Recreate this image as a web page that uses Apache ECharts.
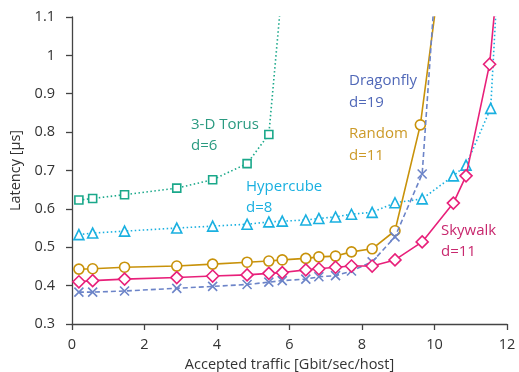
<!DOCTYPE html>
<html>
<head>
<meta charset="utf-8">
<script src="https://cdn.jsdelivr.net/npm/echarts@6/dist/echarts.min.js"></script>
<style>
html,body{margin:0;padding:0;background:#fff;}
#chart{width:519px;height:372px;}
</style>
</head>
<body>
<div id="chart"></div>
<script>
// ---- data ----
const torusX = [0.19, 0.57, 1.45, 2.89, 3.88, 4.83, 5.43, 5.80];
const torusY = [0.623, 0.627, 0.637, 0.654, 0.676, 0.718, 0.794, 1.18];

const hyperX = [0.19, 0.57, 1.45, 2.89, 3.88, 4.83, 5.43, 5.80, 6.45, 6.81, 7.27, 7.71, 8.28, 8.91, 9.66, 10.52, 10.87, 11.55, 11.80];
const hyperY = [0.533, 0.537, 0.542, 0.550, 0.555, 0.560, 0.566, 0.568, 0.571, 0.575, 0.579, 0.586, 0.591, 0.616, 0.626, 0.686, 0.714, 0.862, 1.30];

const randomX = [0.19, 0.57, 1.45, 2.89, 3.88, 4.83, 5.43, 5.80, 6.45, 6.81, 7.27, 7.71, 8.28, 8.91, 9.61, 10.40];
const randomY = [0.443, 0.444, 0.448, 0.451, 0.456, 0.461, 0.464, 0.467, 0.471, 0.475, 0.477, 0.488, 0.496, 0.543, 0.819, 1.39];

const dragonX = [0.19, 0.57, 1.45, 2.89, 3.88, 4.83, 5.43, 5.80, 6.45, 6.81, 7.27, 7.71, 8.28, 8.91, 9.66, 10.20];
const dragonY = [0.383, 0.383, 0.386, 0.393, 0.398, 0.403, 0.409, 0.413, 0.417, 0.423, 0.426, 0.438, 0.462, 0.527, 0.691, 1.43];

const skyX = [0.19, 0.57, 1.45, 2.89, 3.88, 4.83, 5.43, 5.80, 6.45, 6.81, 7.27, 7.71, 8.28, 8.91, 9.66, 10.52, 10.87, 11.52, 11.80];
const skyY = [0.410, 0.413, 0.417, 0.421, 0.425, 0.428, 0.432, 0.434, 0.441, 0.444, 0.448, 0.451, 0.451, 0.467, 0.514, 0.615, 0.686, 0.977, 1.26];

const xTicks = [0, 2, 4, 6, 8, 10, 12];
const yTicks = [0.3, 0.4, 0.5, 0.6, 0.7, 0.8, 0.9, 1.0, 1.1];

const seriesNames = ['3-D Torus', 'Hypercube', 'Random', 'Dragonfly', 'Skywalk'];
const seriesLabels = ['3-D Torus\nd=6', 'Hypercube\nd=8', 'Random\nd=11', 'Dragonfly\nd=19', 'Skywalk\nd=11'];

// ---- chart ----
const FONT = '"Open Sans", "Noto Sans", sans-serif';
const zip = (xs, ys) => xs.map((x, i) => [x, ys[i]]);
const chart = echarts.init(document.getElementById('chart'));

function mk(name, data, color, lineType, symbol, size, z) {
  return {
    name, type: 'line', data, clip: true, z: z,
    symbol, symbolSize: size, showSymbol: true,
    lineStyle: { color, width: 1.6, type: lineType },
    itemStyle: { color: '#fff', borderColor: color, borderWidth: 1.6 },
    emphasis: { disabled: true },
    animation: false
  };
}

const axisCommon = {
  axisLine: { show: true, lineStyle: { color: '#444', width: 1.3 } },
  axisTick: { show: true, inside: false, length: 6, lineStyle: { color: '#444', width: 1.3 } },
  splitLine: { show: false },
  axisLabel: { color: '#333', fontSize: 14.5, fontFamily: FONT },
  nameTextStyle: { color: '#333', fontSize: 14.5, fontFamily: FONT }
};

chart.setOption({
  backgroundColor: '#fff',
  animation: false,
  grid: { left: 72, right: 12, top: 17, bottom: 48, containLabel: false, outerBoundsMode: 'none' },
  xAxis: Object.assign({}, axisCommon, {
    type: 'value', min: xTicks[0], max: xTicks[xTicks.length - 1], interval: 2,
    name: 'Accepted traffic [Gbit/sec/host]', nameLocation: 'middle', nameGap: 30,
    axisLabel: Object.assign({}, axisCommon.axisLabel, { margin: 13 })
  }),
  yAxis: Object.assign({}, axisCommon, {
    type: 'value', min: yTicks[0], max: yTicks[yTicks.length - 1], interval: 0.1,
    name: 'Latency [µs]', nameLocation: 'middle', nameGap: 49,
    axisLabel: Object.assign({}, axisCommon.axisLabel, {
      margin: 17,
      formatter: v => String(+v.toFixed(1))
    })
  }),
  series: [
    mk(seriesNames[0], zip(torusX, torusY), '#1aa88a', [1.5, 2.5], 'rect', 8, 2),
    mk(seriesNames[1], zip(hyperX, hyperY), '#1ab0e0', [1.5, 2.5], 'triangle', 10, 2),
    mk(seriesNames[2], zip(randomX, randomY), '#c8920a', 'solid', 'circle', 10, 3),
    mk(seriesNames[3], zip(dragonX, dragonY), '#6c84c8', [5, 3], 'path://M0,0L10,10M10,0L0,10', 9, 4),
    mk(seriesNames[4], zip(skyX, skyY), '#e8207a', 'solid', 'diamond', 12, 5)
  ],
  graphic: [
    { type: 'text', left: 191, top: 114, style: { text: seriesLabels[0], fill: '#2a9a80', font: '15px ' + FONT, lineHeight: 21 } },
    { type: 'text', left: 246, top: 176, style: { text: seriesLabels[1], fill: '#1ab0e0', font: '15px ' + FONT, lineHeight: 21 } },
    { type: 'text', left: 349, top: 123, style: { text: seriesLabels[2], fill: '#cc9a28', font: '15px ' + FONT, lineHeight: 22 } },
    { type: 'text', left: 349, top: 70, style: { text: seriesLabels[3], fill: '#5068b8', font: '15px ' + FONT, lineHeight: 22 } },
    { type: 'text', left: 441, top: 220, style: { text: seriesLabels[4], fill: '#c8286e', font: '15px ' + FONT, lineHeight: 21 } }
  ]
});
</script>
</body>
</html>
